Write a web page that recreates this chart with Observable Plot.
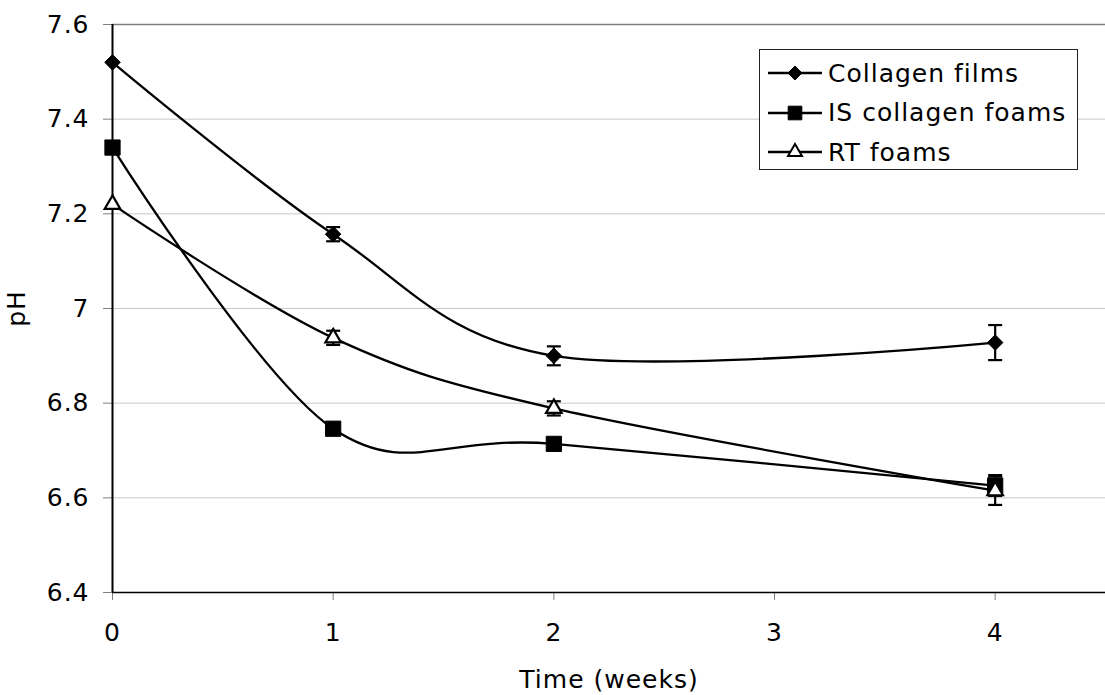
<!DOCTYPE html>
<html>
<head>
<meta charset="utf-8">
<script src="https://cdn.jsdelivr.net/npm/d3@7"></script>
<script src="https://cdn.jsdelivr.net/npm/@observablehq/plot@0.6"></script>
<style>
  html, body { margin: 0; padding: 0; background: #fff; }
  #wrap { position: relative; width: 1105px; height: 695px; font-family: "DejaVu Sans", Verdana, sans-serif; letter-spacing: 1px; }
  #chart svg text { letter-spacing: 1px; }
  #legend { position: absolute; left: 759px; top: 49px; width: 317px; height: 119px; border: 1px solid #222; background: #fff; font-size: 25px; color: #000; }
  .row { position: absolute; left: 0; height: 40px; display: flex; align-items: center; }
  .row svg { margin-left: 8px; margin-right: 6px; }
</style>
</head>
<body>
<div id="wrap"><div id="chart"></div><div id="legend"></div></div>
<script>
const times = [0, 1, 2, 4];
const seriesNames = ["Collagen films", "IS collagen foams", "RT foams"];
const filmsPH = [7.52, 7.157, 6.90, 6.928];
const filmsErr = [0.0, 0.015, 0.02, 0.037];
const isFoamsPH = [7.34, 6.746, 6.714, 6.626];
const isFoamsErr = [0.0, 0.012, 0.012, 0.022];
const rtFoamsPH = [7.22, 6.938, 6.789, 6.615];
const rtFoamsErr = [0.0, 0.015, 0.015, 0.03];
const xTicks = [0, 1, 2, 3, 4];
const yTicks = [6.4, 6.6, 6.8, 7.0, 7.2, 7.4, 7.6];

const symbols = ["diamond2", "square", "triangle"];
const radii = [7, 8.6, 5.8];
const fills = ["black", "black", "white"];

const rows = [];
[[filmsPH, filmsErr], [isFoamsPH, isFoamsErr], [rtFoamsPH, rtFoamsErr]].forEach(([vals, errs], i) => {
  times.forEach((t, j) => rows.push({series: seriesNames[i], s: i, t, v: vals[j], e: errs[j]}));
});
const errRows = rows.filter(d => d.e > 0);

const cap = { draw(ctx) { ctx.moveTo(-7, 0); ctx.lineTo(7, 0); } };

const marks = [
  Plot.ruleY(yTicks.filter(v => v > 6.4 && v < 7.6), {stroke: "#c8c8c8", strokeWidth: 1}),
  Plot.ruleY([7.6], {stroke: "#808080", strokeWidth: 1.5}),
  Plot.axisY({ticks: yTicks, tickSize: 9, tickPadding: 14, stroke: "#808080", fill: "black",
    tickFormat: d => String(d), label: "pH", labelAnchor: "center", labelOffset: 105, labelArrow: "none"}),
  Plot.axisX({ticks: xTicks, tickSize: 8, tickPadding: 23, stroke: "#808080", fill: "black",
    tickFormat: d => String(d), label: "Time (weeks)", labelAnchor: "center", labelOffset: 95, labelArrow: "none"}),
  Plot.ruleX([0], {stroke: "black", strokeWidth: 2}),
  Plot.ruleY([6.4], {stroke: "black", strokeWidth: 1.5}),
];
seriesNames.forEach((name, i) => {
  const data = rows.filter(d => d.s === i);
  const errs = errRows.filter(d => d.s === i);
  marks.push(Plot.line(data, {x: "t", y: "v", curve: "cardinal", stroke: "black", strokeWidth: 2.3}));
  marks.push(Plot.ruleX(errs, {x: "t", y1: d => d.v - d.e, y2: d => d.v + d.e, stroke: "black", strokeWidth: 2.2}));
  marks.push(Plot.dot(errs, {x: "t", y: d => d.v - d.e, symbol: cap, r: 5, stroke: "black", strokeWidth: 2.2, fill: "none"}));
  marks.push(Plot.dot(errs, {x: "t", y: d => d.v + d.e, symbol: cap, r: 5, stroke: "black", strokeWidth: 2.2, fill: "none"}));
});
seriesNames.forEach((name, i) => {
  const data = rows.filter(d => d.s === i);
  marks.push(Plot.dot(data, {x: "t", y: "v", symbol: symbols[i], r: radii[i], fill: fills[i], stroke: "black", strokeWidth: i === 2 ? 2.2 : 1}));
});

const chart = Plot.plot({
  width: 1105,
  height: 695,
  marginLeft: 112,
  marginTop: 24,
  marginBottom: 103,
  marginRight: 0,
  style: {fontFamily: "DejaVu Sans, Verdana, sans-serif", fontSize: "25px", color: "black", background: "white"},
  x: {domain: [0, 4.5]},
  y: {domain: [6.4, 7.6]},
  marks
});
document.getElementById("chart").appendChild(chart);

// legend
const legend = document.getElementById("legend");
const symGen = {diamond2: d3.symbolDiamond2, square: d3.symbolSquare, triangle: d3.symbolTriangle};
seriesNames.forEach((name, i) => {
  const row = document.createElement("div");
  row.className = "row";
  row.style.top = (3 + i * 39.5) + "px";
  const ns = "http://www.w3.org/2000/svg";
  const svg = document.createElementNS(ns, "svg");
  svg.setAttribute("width", 54); svg.setAttribute("height", 30);
  const ln = document.createElementNS(ns, "line");
  ln.setAttribute("x1", 0); ln.setAttribute("x2", 54); ln.setAttribute("y1", 15); ln.setAttribute("y2", 15);
  ln.setAttribute("stroke", "black"); ln.setAttribute("stroke-width", 2.3);
  svg.appendChild(ln);
  const p = document.createElementNS(ns, "path");
  p.setAttribute("d", d3.symbol(symGen[symbols[i]], Math.PI * radii[i] * radii[i] * 0.8)());
  p.setAttribute("transform", "translate(27,15)");
  p.setAttribute("fill", fills[i]); p.setAttribute("stroke", "black"); p.setAttribute("stroke-width", i === 2 ? 2 : 1);
  svg.appendChild(p);
  const span = document.createElement("span");
  span.textContent = name;
  row.appendChild(svg); row.appendChild(span);
  legend.appendChild(row);
});
</script>
</body>
</html>
